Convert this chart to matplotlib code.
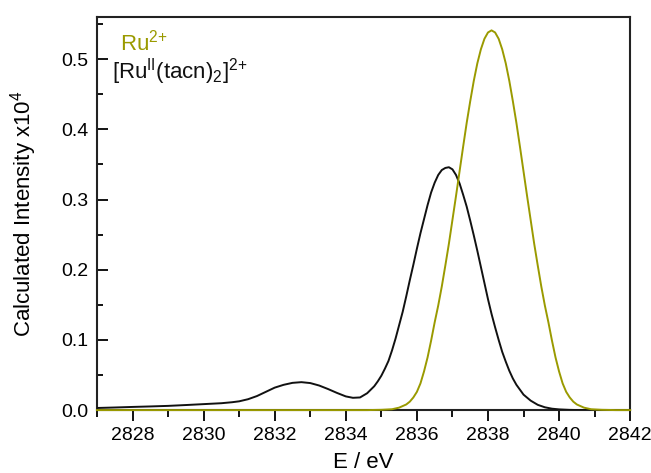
import numpy as np
import matplotlib
matplotlib.use("Agg")
import matplotlib.pyplot as plt
from matplotlib.ticker import MultipleLocator

plt.rcParams['font.family'] = ['Liberation Sans', 'DejaVu Sans']
plt.rcParams['mathtext.fontset'] = 'custom'
plt.rcParams['mathtext.rm'] = 'Liberation Sans'
plt.rcParams['mathtext.it'] = 'Liberation Sans:italic'

# --- data (energy in eV, intensity x10^4) ---
ru_e = [2827.0, 2834.6, 2835.0, 2835.3, 2835.5, 2835.7, 2835.8, 2835.9, 2836.0,
        2836.1, 2836.2, 2836.3, 2836.4, 2836.5, 2836.6, 2836.7, 2836.8, 2836.9,
        2837.0, 2837.1, 2837.2, 2837.3, 2837.4, 2837.5, 2837.6, 2837.7, 2837.8,
        2837.9, 2838.0, 2838.1, 2838.2, 2838.3, 2838.4, 2838.5, 2838.6, 2838.7,
        2838.8, 2838.9, 2839.0, 2839.1, 2839.2, 2839.3, 2839.4, 2839.5, 2839.6,
        2839.7, 2839.8, 2839.9, 2840.0, 2840.1, 2840.2, 2840.3, 2840.4, 2840.5,
        2840.7, 2840.9, 2841.2, 2841.6, 2842.0]
ru_i = [0.0, 0.0, 0.0004, 0.0012, 0.0035, 0.008, 0.012, 0.018, 0.026,
        0.038, 0.055, 0.075, 0.099, 0.125, 0.149, 0.176, 0.206, 0.237,
        0.271, 0.305, 0.340, 0.375, 0.409, 0.440, 0.469, 0.494, 0.514,
        0.529, 0.538, 0.541, 0.538, 0.529, 0.514, 0.494, 0.469, 0.440,
        0.409, 0.375, 0.340, 0.305, 0.271, 0.237, 0.206, 0.176, 0.149,
        0.125, 0.099, 0.075, 0.055, 0.038, 0.026, 0.018, 0.012, 0.008,
        0.0035, 0.0012, 0.0004, 0.0, 0.0]

tacn_e = [2827.0, 2827.5, 2828.0, 2828.5, 2829.0, 2829.5, 2830.0, 2830.5, 2830.8,
          2831.0, 2831.25, 2831.5, 2831.75, 2832.0, 2832.25, 2832.5, 2832.75,
          2833.0, 2833.25, 2833.5, 2833.75, 2834.0, 2834.2, 2834.4, 2834.6,
          2834.8, 2834.9, 2835.0, 2835.1, 2835.2, 2835.3, 2835.4, 2835.5,
          2835.6, 2835.7, 2835.8, 2835.9, 2836.0, 2836.1, 2836.2, 2836.3,
          2836.4, 2836.5, 2836.6, 2836.7, 2836.8, 2836.9, 2837.0, 2837.1,
          2837.2, 2837.3, 2837.4, 2837.5, 2837.6, 2837.7, 2837.8, 2837.9,
          2838.0, 2838.1, 2838.2, 2838.3, 2838.4, 2838.5, 2838.6, 2838.7,
          2838.8, 2838.9, 2839.0, 2839.2, 2839.4, 2839.6, 2839.8, 2840.0,
          2840.3, 2840.6, 2842.0]
tacn_i = [0.003, 0.0037, 0.0045, 0.0052, 0.006, 0.0072, 0.0085, 0.0098, 0.0112,
          0.0125, 0.0155, 0.020, 0.026, 0.032, 0.036, 0.0388, 0.0398,
          0.0385, 0.035, 0.030, 0.0245, 0.0195, 0.0175, 0.018, 0.024,
          0.034, 0.041, 0.049, 0.059, 0.070, 0.085, 0.102, 0.121,
          0.140, 0.162, 0.185, 0.207, 0.230, 0.252, 0.272, 0.292,
          0.310, 0.324, 0.335, 0.342, 0.345, 0.346, 0.343, 0.335,
          0.323, 0.307, 0.290, 0.270, 0.249, 0.227, 0.204, 0.181,
          0.158, 0.137, 0.118, 0.100, 0.083, 0.069, 0.056, 0.045,
          0.036, 0.029, 0.022, 0.0135, 0.0075, 0.004, 0.002, 0.001,
          0.0003, 0.0, 0.0]

olive = '#9a9a00'

fig = plt.figure(figsize=(6.51, 4.73), dpi=100)
ax = fig.add_axes([0.149, 0.133, 0.819, 0.831])

ax.plot(tacn_e, tacn_i, color='#111111', lw=1.4, zorder=3)
ax.plot(ru_e, ru_i, color=olive, lw=1.4, clip_on=False, zorder=4)

ax.set_xlim(2827, 2842)
ax.set_ylim(0, 0.56)

ax.xaxis.set_major_locator(MultipleLocator(2))
ax.xaxis.set_minor_locator(MultipleLocator(1))
ax.yaxis.set_major_locator(MultipleLocator(0.1))
ax.yaxis.set_minor_locator(MultipleLocator(0.05))
ax.set_xticks(np.arange(2828, 2843, 2))
ax.yaxis.set_major_formatter(plt.FuncFormatter(lambda v, p: f"{v:.1f}"))

ax.tick_params(axis='x', which='major', direction='out', length=8, width=1.3, labelsize=14, pad=4)
ax.tick_params(axis='x', which='minor', direction='out', length=5, width=1.3)
ax.tick_params(axis='y', which='major', direction='in', length=8, width=1.3, labelsize=14, pad=6)
ax.tick_params(axis='y', which='minor', direction='in', length=4, width=1.3)
for s in ax.spines.values():
    s.set_linewidth(1.5)
    s.set_color('#222222')

ax.set_xlabel('E / eV', fontsize=16, labelpad=6)
ax.set_ylabel(r'Calculated Intensity x10$^4$', fontsize=16, labelpad=16)

ax.text(0.043, 0.936, r'Ru$^{2\!+}$', transform=ax.transAxes, color=olive,
        fontsize=16, va='center', ha='left')
ax.text(0.028, 0.862, r'[Ru$^{\mathregular{II}}$(tacn)$_2$]$^{2\!+}$', transform=ax.transAxes,
        color='#111111', fontsize=16, va='center', ha='left')

fig.savefig('out.png', dpi=100)
